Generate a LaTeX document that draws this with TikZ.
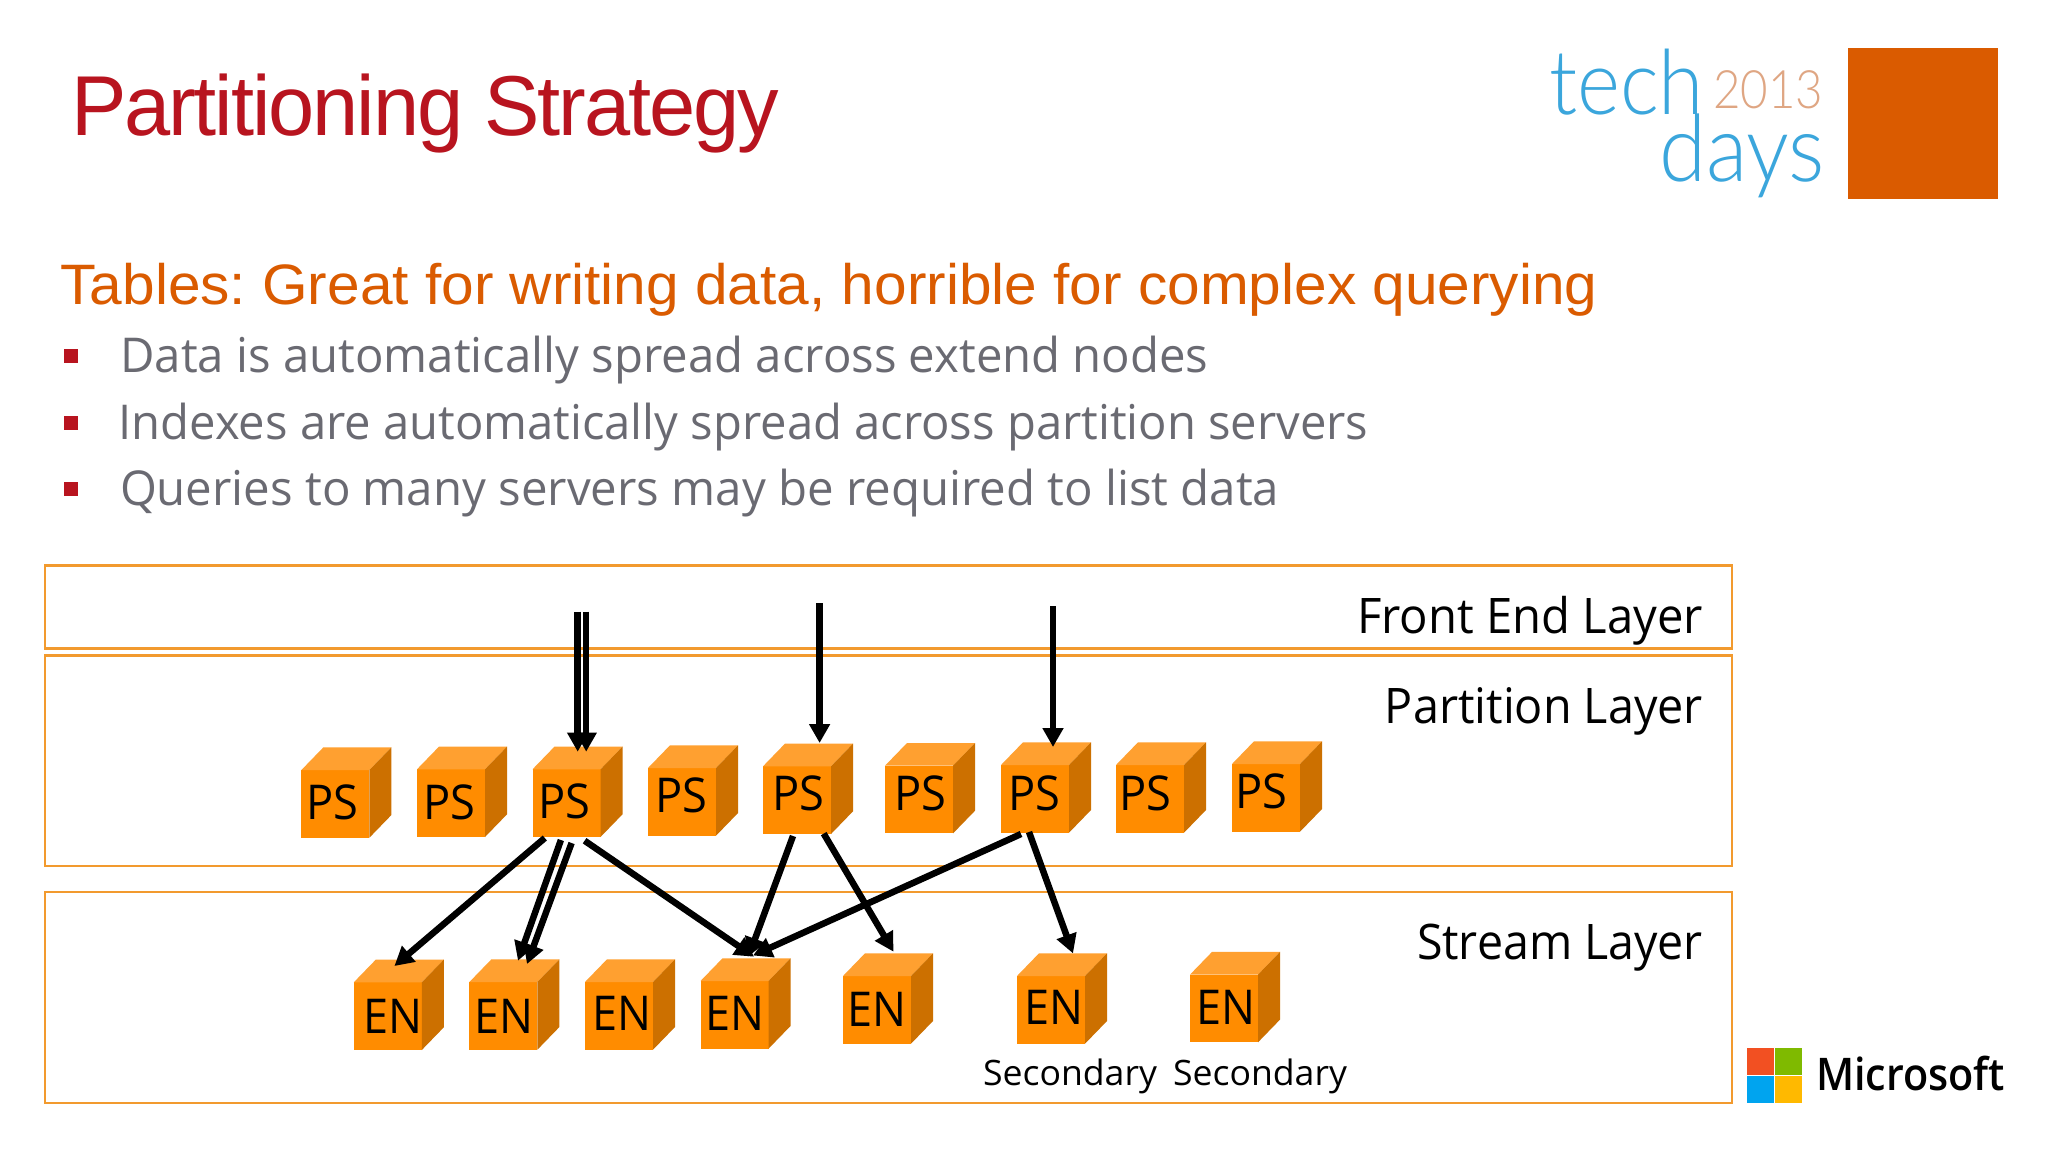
\documentclass[tikz,border=0pt]{standalone}
\usepackage{fontspec}
\usepackage{graphicx}
\usetikzlibrary{calc,arrows.meta}
\setmainfont{Open Sans}
\frenchspacing
\newfontfamily\arialf{Liberation Sans}
\newfontfamily\arialtight[LetterSpace=-2.5]{Liberation Sans}
\newfontfamily\semif[UprightFont={* Semibold}]{Open Sans}
\newfontfamily\thinf[UprightFont={* Light}]{Lato}
\definecolor{titlered}{HTML}{B8141F}
\definecolor{headorange}{HTML}{DA5B00}
\definecolor{bodygrey}{HTML}{6A6A72}
\definecolor{layerline}{HTML}{F29A2E}
\definecolor{cubefront}{HTML}{FF8C00}
\definecolor{cubetopc}{HTML}{FFA030}
\definecolor{cubesidec}{HTML}{CC7000}
\definecolor{techblue}{HTML}{3BA6DC}
\definecolor{yeartan}{HTML}{DFA683}
\newcommand\fitw[2]{\resizebox{#1pt}{\height}{#2}}
\newcommand\fsz[1]{\fontsize{#1}{#1}\selectfont}
\tikzset{
  plain/.style={inner sep=0pt,outer sep=0pt},
  layerbox/.style={draw=layerline,line width=2.4pt,anchor=north west,inner sep=0pt,outer sep=0pt},
  layerlabel/.style={plain,anchor=base east,text=black},
  bulletmark/.style={fill=titlered,plain,minimum width=14pt,minimum height=14pt,anchor=north west},
  bullettext/.style={plain,anchor=base west,text=bodygrey},
  cubeface/.style={fill=cubefront,plain,minimum width=68pt,minimum height=67.7pt,anchor=south west},
  cubelabel/.style={plain,anchor=base,text=black},
  conn/.style={black,line width=6.5pt,-{Triangle[length=19pt,width=20pt]}},
  square/.style={plain,minimum width=26.5pt,minimum height=26.5pt,anchor=north west},
}
% name, x, bottom y, label dx, label rise, text, text width
\newcommand\cubeb[7]{%
  \node[cubeface] (#1) at (#2,#3) {};
  \fill[cubetopc] (#1.north west) -- ++(22,-22.7) -- ++(68,0) -- (#1.north east) -- cycle;
  \fill[cubesidec] (#1.north east) -- ++(22,-22.7) -- ++(0,67.7) -- (#1.south east) -- cycle;
  \node[cubelabel] (#1t) at ($(#1.south)+(#4,-#5)$) {\fsz{48}\fitw{#7}{#6}};
}
\begin{document}
\begin{tikzpicture}[x=1pt,y=-1pt]
\path[use as bounding box,fill=white] (0,0) rectangle (2048,1152);
% title and text
\node[plain,anchor=base west,text=titlered] (title) at (71,135) {\arialtight\fsz{85}\fitw{708}{Partitioning Strategy}};
\node[plain,anchor=base west,text=headorange] (head) at (60.5,304) {\arialf\fsz{57}\fitw{1537}{Tables: Great for writing data, horrible for complex querying}};
\node[bulletmark] (b1) at (64,349) {};
\node[bulletmark] (b2) at (64,416) {};
\node[bulletmark] (b3) at (64,482) {};
\node[bullettext] (t1) at (120.5,372.5) {\fsz{48}\fitw{1088}{Data is automatically spread across extend nodes}};
\node[bullettext] (t2) at (118.5,439) {\fsz{48}\fitw{1250}{Indexes are automatically spread across partition servers}};
\node[bullettext] (t3) at (120,505.5) {\fsz{48}\fitw{1159}{Queries to many servers may be required to list data}};
% tech days logo
\node[plain,anchor=base west,text=techblue] (tech) at (1549,114) {\thinf\fsz{90}\fitw{155}{tech}};
\node[plain,anchor=base west,text=techblue] (days) at (1659,181) {\thinf\fsz{93}\fitw{166}{days}};
\node[plain,anchor=base west,text=yeartan] (year) at (1713,108) {\thinf\fsz{53}\fitw{110}{2013}};
\node[plain,fill=headorange,minimum width=150.4pt,minimum height=151pt,anchor=north west] (orange) at (1848,48) {};
% layers
\node[layerbox,minimum width=1687pt,minimum height=83pt] (fe) at (45,565.5) {};
\node[layerbox,minimum width=1687pt,minimum height=210.5pt] (pl) at (45,655.5) {};
\node[layerbox,minimum width=1687pt,minimum height=211pt] (sl) at (45,892) {};
\node[layerlabel] (fel) at (1703,633) {\fsz{49}\fitw{346}{Front End Layer}};
\node[layerlabel] (pll) at (1703,723) {\fsz{49}\fitw{318}{Partition Layer}};
\node[layerlabel] (sll) at (1703,959) {\fsz{49}\fitw{286}{Stream Layer}};
% PS cubes
\cubeb{p1}{301.4}{837.7}{-3}{18.7}{PS}{52}
\cubeb{p2}{417}{837}{-2}{18}{PS}{52}
\cubeb{p3}{532.5}{837}{-2}{18.7}{PS}{52}
\cubeb{p4}{648}{835.7}{-1}{23}{PS}{52}
\cubeb{p5}{763}{834}{1}{24}{PS}{52}
\cubeb{p6}{885}{833.4}{1}{23}{PS}{52}
\cubeb{p7}{1001}{832.7}{-1}{22}{PS}{52}
\cubeb{p8}{1116}{832.7}{-5}{22}{PS}{52}
\cubeb{p9}{1232}{831.7}{-5}{23}{PS}{52}
% EN cubes
\cubeb{e1}{353.8}{1050}{5}{16.7}{EN}{59}
\cubeb{e2}{469.4}{1049.7}{0.5}{16}{EN}{59}
\cubeb{e3}{585}{1049.7}{3.4}{19}{EN}{59}
\cubeb{e4}{700.5}{1048.7}{0.5}{18}{EN}{59}
\cubeb{e5}{843}{1043.7}{0}{17.6}{EN}{59}
\cubeb{e6}{1017}{1043.7}{3}{19}{EN}{59}
\cubeb{e7}{1190}{1042.3}{1.5}{17.6}{EN}{59}
\node[plain,anchor=base west,text=black] (s1) at (983,1085) {\fsz{35}\fitw{174}{Secondary}};
\node[plain,anchor=base west,text=black] (s2) at (1173,1085) {\fsz{35}\fitw{174}{Secondary}};
% free ends of the incoming arrows
\coordinate (f1) at (577.7,611.7);
\coordinate (f2) at (586.2,611.7);
\coordinate (f3) at (819.6,603);
\coordinate (f4) at (1053,606);
\draw[conn] (f1) -- ($(p3.north)+(11.2,-17.6)$);
\draw[conn] (f2) -- ($(p3.north)+(19.7,-17.6)$);
\draw[conn] (f3) -- ($(p5.north)+(22.6,-23.3)$);
\draw[conn] (f4) -- ($(p7.north)+(18,-18)$);
% connectors to the stream layer
\draw[conn] ($(p3.south)+(-21.7,1)$) -- ($(e1.north)+(6.6,-16.3)$);
\draw[conn] ($(p3.south)+(-5.6,3)$) -- ($(e2.north)+(14.6,-21.3)$);
\draw[conn] ($(p3.south)+(5.1,6)$) -- ($(e2.north)+(23.6,-18)$);
\draw[conn] ($(p3.south)+(18.1,3.7)$) -- ($(e4.north)+(19.5,-24.3)$);
\draw[conn] ($(p5.south)+(-4,2)$) -- ($(e4.north)+(13.9,-24.3)$);
\draw[conn] ($(p5.south)+(26.7,-0.4)$) -- ($(e5.north)+(16.5,-24.3)$);
\draw[conn] ($(p7.south)+(-14,1.3)$) -- ($(e4.north)+(18.5,-25.5)$);
\draw[conn] ($(p7.south)+(-6,-0.7)$) -- ($(e6.north)+(22,-22.6)$);
% Microsoft logo
\node[square,fill={rgb,255:red,242;green,80;blue,34}] (m1) at (1747,1048) {};
\node[square,fill={rgb,255:red,127;green,186;blue,0}] (m2) at (1775,1048) {};
\node[square,fill={rgb,255:red,0;green,164;blue,239}] (m3) at (1747,1076) {};
\node[square,fill={rgb,255:red,255;green,185;blue,0}] (m4) at (1775,1076) {};
\node[plain,anchor=base west,text=black] (ms) at (1816,1090) {\semif\fsz{45}\fitw{189}{Microsoft}};
\end{tikzpicture}
\end{document}
